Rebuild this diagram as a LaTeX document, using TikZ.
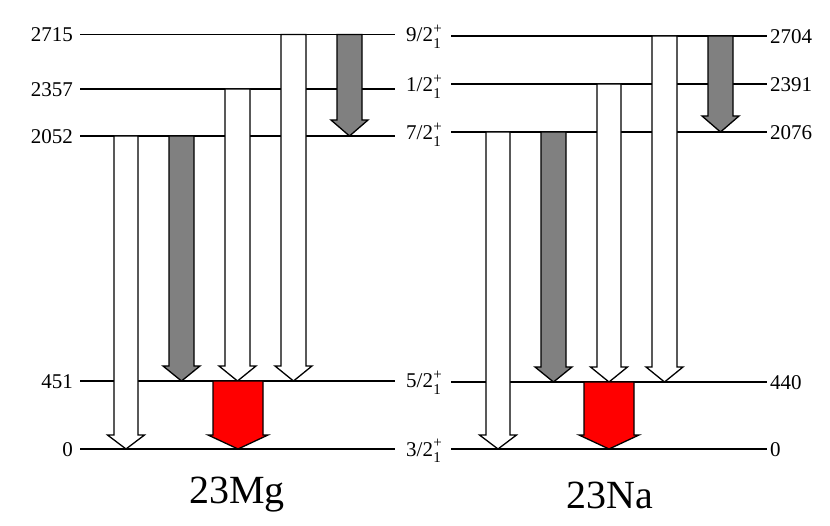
\documentclass[tikz,border=0pt]{standalone}
\usepackage{fontspec}
\setmainfont{Liberation Serif}
\definecolor{arrgray}{HTML}{808080}
\definecolor{arrred}{HTML}{FF0000}
\newcommand\jpi[1]{#1/2\kern0.3pt\makebox[0pt][l]{\raisebox{-0.3em}{\fontsize{15}{15}\selectfont 1}}\raisebox{0.4em}{\fontsize{15}{15}\selectfont +}}
% #1 style, #2 centre x, #3 shaft half width, #4 head half width, #5 top y, #6 tip y, #7 head length
\newcommand\levarrow[7]{%
  \filldraw[#1] (#2-#3,#5) -- (#2-#3,#6-#7) -- (#2-#4,#6-#7) -- (#2,#6)
    -- (#2+#4,#6-#7) -- (#2+#3,#6-#7) -- (#2+#3,#5) -- cycle;}
\begin{document}
\begin{tikzpicture}[x=1pt,y=-1pt,
  level/.style={line width=1.3pt},
  lab/.style={inner sep=0pt,font=\fontsize{21}{21}\selectfont},
  title/.style={inner sep=0pt,font=\fontsize{40}{40}\selectfont,anchor=base},
  whitearr/.style={draw=black,line width=1.3pt,fill=white,line join=miter},
  grayarr/.style={draw=black,line width=1.3pt,fill=arrgray,line join=miter},
  redarr/.style={draw=black,line width=1.3pt,fill=arrred,line join=miter}]
\useasboundingbox (0,0) rectangle (830,526);
% 23Mg levels
\foreach \n/\y in {a/34.5,b/89,c/136,d/381,e/449}{
  \coordinate (mg\n L) at (80,\y); \coordinate (mg\n R) at (395,\y);
  \draw[level] (mg\n L) -- (mg\n R);}
% 23Na levels
\foreach \n/\y in {a/36,b/84,c/132,d/382,e/449}{
  \coordinate (na\n L) at (451,\y); \coordinate (na\n R) at (767,\y);
  \draw[level] (na\n L) -- (na\n R);}
% left energies
\node[lab,anchor=base east] (emga) at (73,42) {2715};
\node[lab,anchor=base east] (emgb) at (73,96.5) {2357};
\node[lab,anchor=base east] (emgc) at (73,143.5) {2052};
\node[lab,anchor=base east] (emgd) at (73,388.5) {451};
\node[lab,anchor=base east] (emge) at (73,456.5) {0};
% right energies
\node[lab,anchor=base west] (enaa) at (770,43.5) {2704};
\node[lab,anchor=base west] (enab) at (770,91.5) {2391};
\node[lab,anchor=base west] (enac) at (770,139.5) {2076};
\node[lab,anchor=base west] (enad) at (770,389.5) {440};
\node[lab,anchor=base west] (enae) at (770,456.5) {0};
% spins
\node[lab,anchor=base west] (ja) at (406,42) {\jpi{9}};
\node[lab,anchor=base west] (jb) at (406,92) {\jpi{1}};
\node[lab,anchor=base west] (jc) at (406,140) {\jpi{7}};
\node[lab,anchor=base west] (jd) at (406,388) {\jpi{5}};
\node[lab,anchor=base west] (je) at (406,456) {\jpi{3}};
% 23Mg transitions
\levarrow{whitearr}{126}{12}{18.5}{136}{449}{14}
\levarrow{grayarr}{181.5}{12.5}{18.5}{136}{381}{15}
\levarrow{whitearr}{237.5}{12.5}{18.5}{89}{381}{15}
\levarrow{whitearr}{293.5}{12.5}{18.5}{34.5}{381}{15}
\levarrow{grayarr}{349.5}{12.5}{18.5}{34.5}{136}{16}
\levarrow{redarr}{238}{25}{30}{381}{449}{14}
% 23Na transitions
\levarrow{whitearr}{498}{12}{18.5}{132}{449}{14}
\levarrow{grayarr}{553.5}{12.5}{18.5}{132}{382}{15}
\levarrow{whitearr}{609}{12}{18.5}{84}{382}{15}
\levarrow{whitearr}{664.5}{12.5}{18.5}{36}{382}{15}
\levarrow{grayarr}{720.5}{12.5}{18.5}{36}{132}{16}
\levarrow{redarr}{609}{25}{30}{382}{449}{14}
% titles
\node[title] (tmg) at (237,503) {23Mg};
\node[title] (tna) at (609.5,508) {23Na};
\end{tikzpicture}
\end{document}
